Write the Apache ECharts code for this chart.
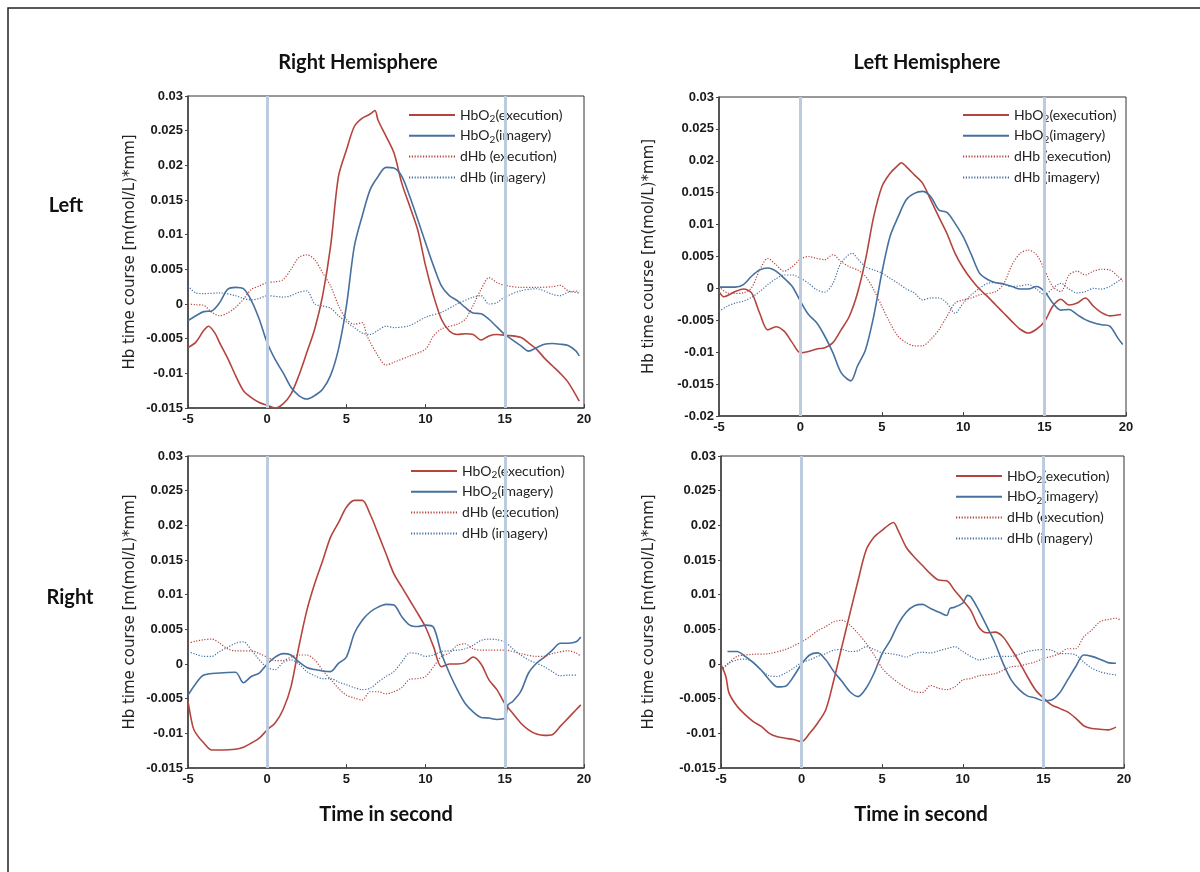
<!DOCTYPE html>
<html>
<head>
<meta charset="utf-8">
<script src="https://cdn.jsdelivr.net/npm/echarts@6/dist/echarts.min.js"></script>
<style>
  html, body { margin: 0; padding: 0; background: #fff; }
  #chart { width: 1200px; height: 872px; }
</style>
</head>
<body>
<div id="chart"></div>
<script>
// Hb time courses, [time (s), value (m(mol/L)*mm)] pairs, one array per curve.

// Right hemisphere, left hand
const rhLeftOxyExe = [[-5,-0.0063],[-4.5,-0.0055],[-4,-0.0038],[-3.7,-0.0032],[-3.3,-0.0042],[-3,-0.0056],[-2.5,-0.0078],[-2,-0.0103],[-1.5,-0.0125],[-1,-0.0135],[-0.5,-0.0142],[0,-0.0146],[0.5,-0.015],[1,-0.0144],[1.5,-0.013],[2,-0.0103],[2.5,-0.007],[3,-0.0036],[3.5,0.0012],[4,0.0083],[4.5,0.0184],[5,0.0222],[5.5,0.0256],[6,0.0268],[6.5,0.0274],[6.8,0.0279],[7,0.0265],[7.5,0.0242],[8,0.0218],[8.5,0.0174],[9,0.0141],[9.5,0.0107],[10,0.0055],[10.5,0.0012],[11,-0.0022],[11.5,-0.0039],[12,-0.0044],[12.5,-0.0043],[13,-0.0044],[13.5,-0.0052],[14,-0.0046],[14.5,-0.0044],[15,-0.0045],[16,-0.0048],[16.5,-0.0056],[17,-0.0065],[17.5,-0.0078],[18,-0.0089],[18.5,-0.01],[19,-0.0113],[19.7,-0.014]];
const rhLeftOxyImg = [[-5,-0.0024],[-4.5,-0.0017],[-4,-0.0011],[-3.5,-0.001],[-3,0.0002],[-2.5,0.0021],[-2,0.0024],[-1.5,0.0022],[-1,0.0005],[-0.5,-0.0022],[0,-0.0056],[0.5,-0.008],[1,-0.0099],[1.5,-0.012],[2,-0.0132],[2.5,-0.0137],[3,-0.0132],[3.5,-0.0123],[4,-0.0103],[4.5,-0.0065],[5,-0.0003],[5.5,0.0083],[6,0.0127],[6.5,0.0165],[7,0.0184],[7.5,0.0197],[8,0.0196],[8.5,0.0184],[9,0.0155],[9.5,0.0122],[10,0.0088],[10.5,0.0055],[11,0.0026],[11.5,0.0012],[12,0.0005],[12.5,-0.0005],[13,-0.0013],[13.5,-0.0014],[14,-0.0022],[14.5,-0.0033],[15,-0.0044],[15.5,-0.0052],[16,-0.006],[16.5,-0.0068],[17,-0.0063],[17.5,-0.0058],[18,-0.0057],[18.5,-0.0058],[19,-0.006],[19.5,-0.0068],[19.7,-0.0075]];
const rhLeftDeoxyExe = [[-5,0],[-4.5,-0.0001],[-4,-0.0002],[-3.5,-0.0012],[-3,-0.0017],[-2.5,-0.0013],[-2,-0.0005],[-1.5,0.0007],[-1,0.0021],[-0.5,0.0026],[0,0.0031],[0.5,0.0032],[1,0.0035],[1.5,0.005],[2,0.0067],[2.5,0.0071],[3,0.0064],[3.5,0.0045],[4,0.0026],[4.5,-0.0002],[5,-0.0022],[5.5,-0.0029],[6,-0.0027],[6.3,-0.0046],[7,-0.0075],[7.5,-0.0088],[8,-0.0084],[9,-0.0075],[10,-0.0065],[10.5,-0.0046],[11,-0.0036],[12,-0.0029],[12.5,-0.0022],[13,-0.0002],[13.5,0.0021],[14,0.0038],[14.5,0.0031],[15,0.0027],[16,0.0024],[17,0.0024],[18,0.0025],[18.5,0.0027],[19,0.0019],[19.7,0.0016]];
const rhLeftDeoxyImg = [[-5,0.0026],[-4.5,0.0016],[-4,0.0015],[-3,0.0016],[-2,0.0012],[-1.5,0.0008],[-1,0.0006],[-0.5,0.0008],[0,0.0012],[1,0.001],[1.5,0.0012],[2,0.0017],[2.5,0.0019],[3,0],[3.5,-0.0003],[4,-0.0006],[4.5,-0.0017],[5,-0.0026],[5.5,-0.0034],[6,-0.0042],[6.5,-0.0044],[7,-0.0038],[7.5,-0.0032],[8,-0.0034],[9,-0.0031],[10,-0.0019],[11,-0.0012],[12,0],[13,0.001],[13.5,0.0012],[14,0],[14.5,0.0002],[15,0.001],[16,0.0019],[17,0.0022],[18,0.0014],[18.5,0.0012],[19,0.0017],[19.7,0.0019]];

// Left hemisphere, left hand
const lhLeftOxyExe = [[-5,-0.0005],[-4.7,-0.0013],[-4,-0.0005],[-3.5,-0.0001],[-3,-0.0007],[-2.5,-0.0039],[-2,-0.0065],[-1.5,-0.006],[-1,-0.0067],[-0.5,-0.0085],[0,-0.0101],[0.5,-0.0099],[1,-0.0095],[1.5,-0.0093],[2,-0.0085],[2.5,-0.0065],[3,-0.0044],[3.5,-0.0008],[4,0.0045],[4.5,0.0112],[5,0.0159],[5.5,0.018],[6,0.0193],[6.2,0.0197],[6.5,0.0191],[7,0.0178],[7.5,0.0165],[8,0.0139],[8.5,0.0112],[9,0.0086],[9.5,0.0055],[10,0.0032],[10.5,0.0014],[11,-0.0001],[11.5,-0.0013],[12,-0.0026],[12.5,-0.0039],[13,-0.0052],[13.5,-0.0064],[14,-0.007],[14.5,-0.0064],[15,-0.0052],[15.5,-0.0028],[16,-0.0017],[16.5,-0.0026],[17,-0.0023],[17.5,-0.0015],[18,-0.0028],[18.5,-0.0038],[19,-0.0043],[19.7,-0.0041]];
const lhLeftOxyImg = [[-5,0.0002],[-4,0.0002],[-3.5,0.0006],[-3,0.0019],[-2.5,0.0029],[-2,0.0032],[-1.5,0.0027],[-1,0.0016],[-0.5,0.0003],[0,-0.002],[0.5,-0.0041],[1,-0.0054],[1.5,-0.0075],[2,-0.0101],[2.5,-0.0132],[3.1,-0.0145],[3.5,-0.0122],[4,-0.0096],[4.5,-0.0044],[5,0.0024],[5.5,0.0081],[6,0.0112],[6.5,0.0139],[7,0.0149],[7.5,0.0152],[8,0.0144],[8.5,0.0123],[9,0.0119],[9.5,0.0102],[10,0.0081],[10.5,0.0053],[11,0.0024],[11.5,0.0014],[12,0.0009],[12.5,0.0007],[13,0.0003],[13.5,-0.0001],[14,-0.0001],[14.5,0.0003],[15,-0.0005],[15.5,-0.0023],[16,-0.0034],[16.5,-0.0033],[17,-0.0041],[17.5,-0.0049],[18,-0.0054],[18.5,-0.0057],[19,-0.0059],[19.5,-0.0078],[19.8,-0.0088]];
const lhLeftDeoxyExe = [[-5,0.0003],[-4.5,-0.0007],[-4,-0.0008],[-3.5,-0.0007],[-3,0.0001],[-2.5,0.0029],[-2,0.0047],[-1.5,0.0037],[-1,0.0027],[-0.5,0.0034],[0,0.0046],[0.5,0.005],[1,0.0047],[1.5,0.0045],[2,0.0053],[2.5,0.0042],[3,0.0034],[3.5,0.0029],[4,0.0019],[4.5,-0.0002],[5,-0.0028],[5.5,-0.0054],[6,-0.0075],[6.5,-0.0085],[7,-0.009],[7.5,-0.009],[8,-0.008],[8.5,-0.0065],[9,-0.0044],[9.5,-0.0023],[10,-0.0018],[10.5,-0.0015],[11,-0.001],[12,-0.0005],[12.5,0.0008],[13,0.0037],[13.5,0.0055],[14,0.006],[14.5,0.0053],[15,0.0029],[15.5,0.0003],[16,-0.0005],[16.5,0.0021],[17,0.0027],[17.5,0.0021],[18,0.0027],[18.5,0.003],[19,0.0029],[19.5,0.0019],[19.8,0.0011]];
const lhLeftDeoxyImg = [[-5,-0.0036],[-4.5,-0.0028],[-4,-0.0023],[-3.5,-0.002],[-3,-0.0014],[-2.5,-0.0005],[-2,0.0006],[-1.5,0.0015],[-1,0.0021],[-0.5,0.0021],[0,0.0016],[0.5,0.0008],[1,-0.0002],[1.5,-0.0006],[2,0.0008],[2.5,0.004],[3.2,0.0055],[3.5,0.0047],[4,0.0034],[4.5,0.0029],[5,0.0024],[5.5,0.0016],[6,0.0008],[6.5,-0.0001],[7,-0.0007],[7.5,-0.0018],[8,-0.0015],[8.5,-0.0015],[9,-0.0023],[9.5,-0.0039],[10,-0.0023],[10.5,-0.001],[11,0],[11.5,0.0008],[12,0.0009],[12.5,0.0006],[13,0.0003],[13.5,0.0004],[14,0.0006],[14.5,-0.0001],[15,-0.001],[15.5,0],[16,0.0008],[16.5,-0.0001],[17,-0.0007],[17.5,-0.0005],[18,0],[18.5,-0.0001],[19,0.0003],[19.5,0.0011],[19.8,0.0016]];

// Right hemisphere, right hand
const rhRightOxyExe = [[-5,-0.0054],[-4.7,-0.009],[-4.5,-0.01],[-4,-0.0114],[-3.5,-0.0124],[-3,-0.0124],[-2,-0.0123],[-1.5,-0.012],[-1,-0.0114],[-0.5,-0.0107],[0,-0.0095],[0.5,-0.0085],[1,-0.0066],[1.5,-0.0033],[2,0.0025],[2.5,0.0077],[3,0.0116],[3.5,0.0149],[4,0.0183],[4.5,0.0204],[5,0.0226],[5.5,0.0236],[6,0.0236],[6.5,0.0216],[7,0.0188],[7.5,0.0159],[8,0.013],[8.5,0.0111],[9,0.0092],[9.5,0.0073],[10,0.0053],[10.5,0.0025],[11,-0.0004],[11.5,0],[12,0],[12.5,0.0002],[13,0.001],[13.5,0],[14,-0.0023],[14.5,-0.0037],[15,-0.0057],[15.5,-0.0071],[16,-0.0085],[16.5,-0.0095],[17,-0.0101],[17.5,-0.0103],[18,-0.0102],[18.5,-0.009],[19,-0.0078],[19.5,-0.0066],[19.8,-0.0059]];
const rhRightOxyImg = [[-5,-0.0045],[-4.5,-0.0028],[-4,-0.0016],[-3,-0.0013],[-2,-0.0012],[-1.5,-0.0027],[-1,-0.0018],[-0.5,-0.0013],[0,0],[0.5,0.001],[1,0.0015],[1.5,0.0013],[2,0.0003],[2.5,-0.0005],[3,-0.0008],[3.5,-0.001],[4,-0.0011],[4.5,0.0001],[5,0.001],[5.5,0.0044],[6,0.0063],[6.5,0.0075],[7,0.0082],[7.5,0.0086],[8,0.0085],[8.5,0.0068],[9,0.0056],[9.5,0.0054],[10,0.0056],[10.5,0.0053],[11,0.0015],[11.5,-0.0013],[12,-0.0037],[12.5,-0.0057],[13,-0.0069],[13.5,-0.0077],[14,-0.0078],[14.5,-0.008],[15,-0.0078],[15.2,-0.0059],[15.5,-0.0054],[16,-0.004],[16.5,-0.0013],[17,0.0001],[17.5,0.001],[18,0.002],[18.5,0.003],[19,0.003],[19.5,0.0032],[19.8,0.0039]];
const rhRightDeoxyExe = [[-5,0.003],[-4.5,0.0033],[-4,0.0035],[-3.5,0.0036],[-3,0.003],[-2.5,0.0022],[-2,0.0019],[-1,0.0019],[-0.5,0.0015],[0,0.001],[0.5,0.0005],[1,0.0005],[1.5,0.001],[2,0.0013],[2.5,0.0013],[3,0.0006],[3.5,-0.0009],[4,-0.0022],[4.5,-0.0035],[5,-0.0045],[5.5,-0.0049],[6,-0.0052],[6.5,-0.004],[7,-0.004],[7.5,-0.0043],[8,-0.004],[8.5,-0.0034],[9,-0.0022],[9.5,-0.0021],[10,-0.0018],[10.5,-0.0004],[11,0.0011],[11.5,0.0016],[12,0.0027],[12.5,0.0029],[13,0.0022],[13.5,0.002],[14,0.002],[15,0.002],[16,0.0015],[17,0.0011],[17.5,0.0011],[18,0.0015],[19,0.0019],[19.5,0.0016],[19.8,0.0011]];
const rhRightDeoxyImg = [[-5,0.0018],[-4.5,0.0014],[-4,0.0011],[-3.5,0.0011],[-3,0.0018],[-2.5,0.0024],[-2,0.003],[-1.5,0.0032],[-1,0.002],[-0.5,0.0006],[0,-0.0005],[0.5,-0.0008],[1,0.0002],[1.5,0.0006],[2,0],[2.5,-0.0011],[3,-0.0017],[3.5,-0.0021],[4,-0.0021],[4.5,-0.0026],[5,-0.003],[5.5,-0.0034],[6,-0.0037],[6.5,-0.0035],[7,-0.0026],[7.5,-0.0018],[8,-0.0011],[8.5,0.0003],[9,0.0016],[9.5,0.0015],[10,0.0011],[10.5,0.0013],[11,0.0018],[11.5,0.0019],[12,0.002],[12.5,0.0022],[13,0.0027],[13.5,0.0034],[14,0.0036],[14.5,0.0035],[15,0.0032],[15.5,0.0022],[16,0.0013],[16.5,0.0006],[17,0.0001],[17.5,-0.0004],[18,-0.0011],[18.5,-0.0017],[19,-0.0016],[19.5,-0.0016]];

// Left hemisphere, right hand
const lhRightOxyExe = [[-5,-0.0001],[-4.7,-0.0018],[-4.5,-0.0042],[-4,-0.0061],[-3.5,-0.0073],[-3,-0.0083],[-2.5,-0.009],[-2,-0.01],[-1.5,-0.0105],[-1,-0.0107],[-0.5,-0.0109],[0,-0.0112],[0.5,-0.01],[1,-0.0085],[1.5,-0.0066],[2,-0.0023],[2.5,0.0025],[3,0.0073],[3.5,0.012],[4,0.0164],[4.5,0.0183],[5,0.0193],[5.5,0.0202],[5.7,0.0204],[6,0.0192],[6.5,0.0168],[7,0.0154],[7.5,0.0142],[8,0.013],[8.5,0.0121],[9,0.012],[9.5,0.0106],[10,0.0092],[10.5,0.0077],[11,0.0053],[11.5,0.0045],[12,0.0046],[12.5,0.0039],[13,0.0022],[13.5,0.0003],[14,-0.0018],[14.5,-0.0037],[15,-0.0049],[15.5,-0.0059],[16,-0.0064],[16.5,-0.0069],[17,-0.0078],[17.5,-0.0089],[18,-0.0093],[18.5,-0.0094],[19,-0.0095],[19.5,-0.0091]];
const lhRightOxyImg = [[-4.6,0.0018],[-4,0.0018],[-3.5,0.0011],[-3,0.0002],[-2.5,-0.0009],[-2,-0.0023],[-1.5,-0.0033],[-1,-0.0032],[-0.5,-0.0018],[0,0],[0.5,0.0013],[1,0.0016],[1.5,0.0006],[2,-0.0011],[2.5,-0.0025],[3,-0.004],[3.5,-0.0047],[4,-0.0035],[4.5,-0.0013],[5,0.0015],[5.5,0.0034],[6,0.0058],[6.5,0.0075],[7,0.0084],[7.5,0.0086],[8,0.008],[8.5,0.0075],[9,0.007],[9.2,0.008],[9.5,0.0082],[10,0.0088],[10.3,0.0099],[10.5,0.0097],[11,0.0077],[11.5,0.0054],[12,0.003],[12.5,0.0001],[13,-0.0023],[13.5,-0.0037],[14,-0.0046],[14.5,-0.0049],[15,-0.0053],[15.5,-0.0052],[16,-0.0042],[16.5,-0.0023],[17,-0.0004],[17.5,0.0013],[18,0.0011],[18.5,0.0007],[19,0.0002],[19.5,0.0001]];
const lhRightDeoxyExe = [[-5,-0.0009],[-4.5,0.0002],[-4,0.0011],[-3.5,0.0013],[-3,0.0014],[-2,0.0015],[-1,0.0021],[-0.5,0.0026],[0,0.0032],[0.5,0.0039],[1,0.0048],[1.5,0.0054],[2,0.0061],[2.5,0.0063],[3,0.0056],[3.5,0.0044],[4,0.003],[4.5,0.0013],[5,-0.0006],[5.5,-0.0018],[6,-0.0027],[6.5,-0.0035],[7,-0.004],[7.5,-0.0041],[8,-0.0031],[8.5,-0.0035],[9,-0.0037],[9.5,-0.0033],[10,-0.0023],[10.5,-0.0021],[11,-0.0017],[12,-0.0014],[12.5,-0.0009],[13,-0.0004],[13.5,-0.0003],[14,0],[14.5,0.0003],[15,0.0008],[15.5,0.0011],[16,0.0015],[16.5,0.0022],[17,0.0022],[17.5,0.0039],[18,0.0049],[18.5,0.0061],[19,0.0064],[19.5,0.0066],[19.8,0.0063]];
const lhRightDeoxyImg = [[-5,-0.0009],[-4.5,0.0001],[-4,0.0006],[-3.5,0.0007],[-3,0.0003],[-2.5,-0.0009],[-2,-0.0017],[-1.5,-0.0018],[-1,-0.0013],[-0.5,-0.0006],[0,0.0002],[0.5,0.0006],[1,0.0011],[1.5,0.0015],[2,0.002],[2.5,0.0021],[3,0.0018],[3.5,0.0019],[4,0.0025],[4.5,0.0021],[5,0.0016],[5.5,0.0015],[6,0.0013],[6.5,0.001],[7,0.0015],[7.5,0.0017],[8,0.0016],[8.5,0.0019],[9,0.0022],[9.5,0.0025],[10,0.0018],[10.5,0.0011],[11,0.0006],[11.5,0.0008],[12,0.0011],[12.5,0.0011],[13,0.0011],[13.5,0.0014],[14,0.0018],[14.5,0.002],[15,0.0021],[15.5,0.002],[16,0.0015],[16.5,0.0015],[17,0.0013],[17.5,0.0003],[18,-0.0006],[18.5,-0.0011],[19,-0.0014],[19.5,-0.0016]];

// Task window markers (s)
const taskMarks = [0, 15];
const xTicks = { min: -5, max: 20, step: 5 };
const yRanges = [[-0.015, 0.03], [-0.02, 0.03], [-0.015, 0.03], [-0.015, 0.03]];

const seriesNames = ['HbO2 (execution)', 'HbO2 (imagery)', 'dHb (execution)', 'dHb (imagery)'];
const panels = [
  [rhLeftOxyExe, rhLeftOxyImg, rhLeftDeoxyExe, rhLeftDeoxyImg],
  [lhLeftOxyExe, lhLeftOxyImg, lhLeftDeoxyExe, lhLeftDeoxyImg],
  [rhRightOxyExe, rhRightOxyImg, rhRightDeoxyExe, rhRightDeoxyImg],
  [lhRightOxyExe, lhRightOxyImg, lhRightDeoxyExe, lhRightDeoxyImg]
];

const RED = '#b4443e';
const BLUE = '#46709f';
const MARK = '#bccbdd';

const grids = [
  { left: 188, top: 96, width: 396, height: 312 },
  { left: 719, top: 97, width: 407, height: 319 },
  { left: 188, top: 456, width: 396, height: 312 },
  { left: 721, top: 456, width: 403, height: 312 }
];
const nameGaps = [50, 62, 50, 64];
const legendPos = [
  { left: 408, top: 106 },
  { left: 962, top: 106 },
  { left: 410, top: 462 },
  { left: 955, top: 467 }
];

const styles = [
  { color: RED, type: 'solid', width: 1.6 },
  { color: BLUE, type: 'solid', width: 1.6 },
  { color: RED, type: [1.2, 1.6], width: 1.2 },
  { color: BLUE, type: [1.2, 1.6], width: 1.2 }
];

const tickFont = { fontFamily: 'Liberation Sans', fontWeight: 'bold', fontSize: 13, color: '#1a1a1a' };

const xAxes = grids.map((g, i) => ({
  type: 'value', gridIndex: i,
  min: xTicks.min, max: xTicks.max, interval: xTicks.step,
  axisLine: { show: true, onZero: false, lineStyle: { color: '#444', width: 1.6 } },
  axisTick: { show: true, inside: true, length: 4, lineStyle: { color: '#444' } },
  axisLabel: Object.assign({ margin: 5 }, tickFont),
  splitLine: { show: false }
}));

const yAxes = grids.map((g, i) => ({
  type: 'value', gridIndex: i,
  min: yRanges[i][0], max: yRanges[i][1], interval: 0.005,
  name: 'Hb time course [m(mol/L)*mm]',
  nameLocation: 'middle', nameRotate: 90, nameGap: nameGaps[i],
  nameTextStyle: { fontFamily: 'DejaVu Sans', fontSize: 15, color: '#222' },
  axisLine: { show: true, onZero: false, lineStyle: { color: '#444', width: 1.6 } },
  axisTick: { show: true, length: 3, lineStyle: { color: '#444' } },
  axisLabel: Object.assign({ margin: 5, formatter: v => String(+v.toFixed(3)) }, tickFont),
  splitLine: { show: false }
}));

const series = [];
panels.forEach((curves, p) => {
  series.push({
    type: 'line', name: 'task onset/offset', xAxisIndex: p, yAxisIndex: p,
    data: [], z: 1, silent: true,
    markLine: {
      silent: true, symbol: 'none', animation: false,
      label: { show: false },
      lineStyle: { color: MARK, width: 3, type: 'solid' },
      data: taskMarks.map(t => ({ xAxis: t }))
    }
  });
  curves.forEach((d, k) => {
    series.push({
      type: 'line', name: seriesNames[k], xAxisIndex: p, yAxisIndex: p,
      data: d, symbol: 'none', smooth: 0.3, z: 3,
      lineStyle: { color: styles[k].color, type: styles[k].type, width: styles[k].width },
      itemStyle: { color: styles[k].color }
    });
  });
});

const legendRich = {
  a: { fontFamily: 'Lato', fontSize: 14, color: '#222', lineHeight: 18 },
  s: { fontFamily: 'Lato', fontSize: 10, color: '#222', lineHeight: 10, padding: [8, 0, 0, 0] }
};
// every entry carries a subscript token so all rows share the same height
const legends = legendPos.map(pos => ({
  left: pos.left, top: pos.top, orient: 'vertical', padding: 0,
  itemWidth: 46, itemHeight: 14, itemGap: 2.8,
  selectedMode: false,
  data: seriesNames,
  // line-only key: hide the marker that line series add to their legend icon
  itemStyle: { color: 'rgba(0,0,0,0)', borderColor: 'rgba(0,0,0,0)', borderWidth: 0, opacity: 0 },
  textStyle: { rich: legendRich },
  formatter: n => n.startsWith('HbO2')
    ? '{a|HbO}{s|2}{a|' + n.slice(5) + '}'
    : '{a|' + n + '}{s| }'
}));

const heading = (text, x, y) => ({
  type: 'text', x: x, y: y, silent: true,
  style: { text: text, font: 'bold 20px Lato', fill: '#111', align: 'center', verticalAlign: 'middle' }
});

const chart = echarts.init(document.getElementById('chart'), null, { renderer: 'canvas' });
chart.setOption({
  animation: false,
  backgroundColor: '#fff',
  grid: grids.map(g => Object.assign({ show: true, borderColor: '#333', borderWidth: 1, backgroundColor: 'transparent' }, g)),
  xAxis: xAxes,
  yAxis: yAxes,
  legend: legends,
  series: series,
  graphic: [
    { type: 'rect', shape: { x: 8, y: 8, width: 1200, height: 880 }, silent: true,
      style: { fill: 'none', stroke: '#222', lineWidth: 1.5 } },
    heading('Right Hemisphere', 358, 63),
    heading('Left Hemisphere', 927, 63),
    heading('Left', 66, 206),
    heading('Right', 70, 598),
    heading('Time in second', 386, 815),
    heading('Time in second', 921, 815)
  ]
});
</script>
</body>
</html>
